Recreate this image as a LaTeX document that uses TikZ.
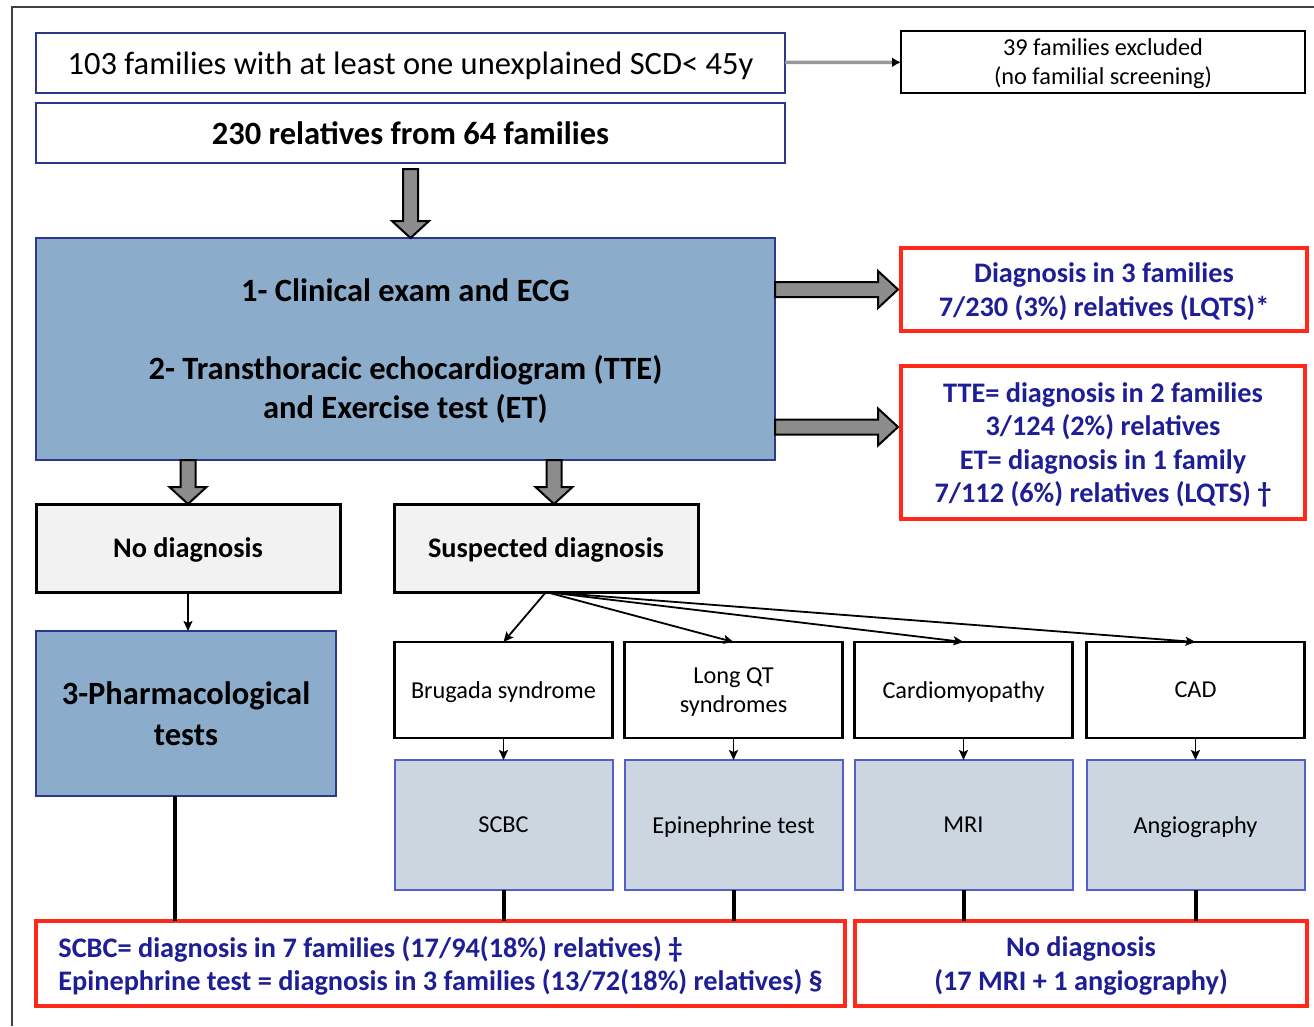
\documentclass[tikz,border=0pt]{standalone}
\usepackage{fontspec}
\setmainfont{Carlito}
\usepackage{xcolor}
\definecolor{colorFrame}{RGB}{45,55,140}
\definecolor{colorStep}{RGB}{139,173,203}
\definecolor{colorTest}{RGB}{203,214,225}
\definecolor{colorTestFrame}{RGB}{85,95,200}
\definecolor{colorResult}{RGB}{255,40,25}
\definecolor{colorText}{RGB}{30,30,150}
\definecolor{colorShade}{RGB}{242,242,242}
\definecolor{colorBlock}{RGB}{140,140,140}
\usepackage{tikz}
\usetikzlibrary{arrows, arrows.meta, positioning, calc}

\newcommand{\sizeBig}{\fontsize{32.5}{39}\selectfont}
\newcommand{\sizeMid}{\fontsize{28.3}{33.5}\selectfont}
\newcommand{\sizeSmall}{\fontsize{24.3}{29}\selectfont}

\tikzset{
  every node/.style={outer sep=0pt, text depth=0pt},
  topbox/.style={draw=colorFrame, fill=white, line width=2.5pt, inner sep=0pt, align=center},
  stepbox/.style={draw=colorFrame, fill=colorStep, line width=2.5pt, inner sep=0pt, align=center, font=\sizeBig\bfseries},
  plainbox/.style={draw=black, fill=white, line width=2.5pt, inner sep=0pt, align=center},
  greybox/.style={draw=black, fill=colorShade, line width=3pt, inner sep=0pt, align=center, font=\sizeMid\bfseries},
  syndrome/.style={plainbox, minimum width=218pt, minimum height=96pt, font=\sizeSmall},
  testbox/.style={draw=colorTestFrame, fill=colorTest, line width=2pt, inner sep=0pt, align=center, minimum width=218pt, minimum height=130pt, font=\sizeSmall},
  resultbox/.style={draw=colorResult, fill=white, line width=3.5pt, inner sep=0pt, text=colorText, font=\sizeMid\bfseries},
  fatarrow/.style={draw=black, fill=colorBlock, line width=2pt, line join=miter},
  thinarrow/.style={->, draw=black, line width=1.8pt},
  thickline/.style={draw=black, line width=4pt},
  greyline/.style={-{Latex[black, length=9pt, width=10pt]}, draw=black!40, line width=3.5pt},
}

% block arrows, drawn between two points
\newcommand{\fatdown}[2]{%
  \path[fatarrow] let \p1=(#1), \p2=(#2) in
    (\x1-7.5pt,\y1) -- (\x1-7.5pt,\y2+17pt) -- (\x1-18.5pt,\y2+17pt) -- (\x1,\y2)
    -- (\x1+18.5pt,\y2+17pt) -- (\x1+7.5pt,\y2+17pt) -- (\x1+7.5pt,\y1) -- cycle;}
\newcommand{\fatright}[2]{%
  \path[fatarrow] let \p1=(#1), \p2=(#2) in
    (\x1,\y1-7.5pt) -- (\x2-20pt,\y1-7.5pt) -- (\x2-20pt,\y1-18.5pt) -- (\x2,\y1)
    -- (\x2-20pt,\y1+18.5pt) -- (\x2-20pt,\y1+7.5pt) -- (\x1,\y1+7.5pt) -- cycle;}

\begin{document}
\begin{tikzpicture}[x=1pt, y=-1pt, >={Stealth[length=10pt, width=9pt, inset=2pt]}, node distance=12pt]
\useasboundingbox (0,0) rectangle (1314,1026);
\draw[black!75, line width=2pt] (12,1026) -- (12,7) -- (1314,7);

% screening
\node[topbox, minimum width=749pt, minimum height=60pt, font=\sizeBig] (cohort) at (410.5,63) {103 families with at least one unexplained SCD< 45y};
\node[topbox, minimum width=749pt, minimum height=60pt, font=\sizeBig\bfseries, below=10pt of cohort] (relatives) {230 relatives from 64 families};
\node[plainbox, minimum width=404pt, minimum height=62pt, font=\sizeSmall] (excluded) at (1103,62) {39 families excluded\\(no familial screening)};
\draw[greyline] (cohort) -- (excluded);

% first line tests
\node[stepbox, minimum width=739pt, minimum height=222pt] (clinical) at (405.5,349) {1- Clinical exam and ECG\\[39pt]2- Transthoracic echocardiogram (TTE)\\and Exercise test (ET)};
\node[resultbox, align=center, minimum width=406pt, minimum height=83pt] (diagA) at (1104,289.5) {Diagnosis in 3 families\\7/230 (3\%) relatives (LQTS)*};
\node[resultbox, align=center, minimum width=404pt, minimum height=153pt] (diagB) at (1103,442.5) {TTE= diagnosis in 2 families\\3/124 (2\%) relatives\\ET= diagnosis in 1 family\\7/112 (6\%) relatives (LQTS) †};
\coordinate (tteArrow) at ([yshift=15.5pt]diagB.west);
\fatdown{[yshift=-6pt]relatives.south}{clinical.north}
\fatright{clinical.east |- diagA.west}{[xshift=-3pt]diagA.west}
\fatright{clinical.east |- tteArrow}{[xshift=-3pt]tteArrow}

% outcome of first line
\node[greybox, minimum width=304pt, minimum height=88pt] (nodiag) at (188,548) {No diagnosis};
\node[greybox, minimum width=304pt, minimum height=88pt, right=54pt of nodiag] (suspected) {Suspected diagnosis};
\coordinate (suspTop) at ([xshift=8pt]suspected.north);
\fatdown{clinical.south -| nodiag.north}{nodiag.north}
\fatdown{clinical.south -| suspTop}{suspTop}

\node[stepbox, minimum width=300pt, minimum height=165pt] (pharm) at (186,713.5) {3-Pharmacological\\[2pt]tests};
\draw[thinarrow] (nodiag.south) -- (nodiag.south |- pharm.north);

% suspected diseases and their tests
\node[syndrome] (brugada) at (503.5,690) {Brugada syndrome};
\node[syndrome, right=12pt of brugada] (longqt) {Long QT\\syndromes};
\node[syndrome, right=12pt of longqt] (cardio) {Cardiomyopathy};
\node[syndrome, right=14pt of cardio] (cad) {CAD};
\foreach \dis in {brugada, longqt, cardio, cad}
  \draw[thinarrow] (suspected.south) -- (\dis.north);

\node[testbox, below=22pt of brugada] (scbc) {SCBC};
\node[testbox, below=22pt of longqt] (epi) {Epinephrine test};
\node[testbox, below=22pt of cardio] (mri) {MRI};
\node[testbox, below=22pt of cad] (angio) {Angiography};
\draw[thinarrow] (brugada) -- (scbc);
\draw[thinarrow] (longqt) -- (epi);
\draw[thinarrow] (cardio) -- (mri);
\draw[thinarrow] (cad) -- (angio);

% results
\node[resultbox, align=left, minimum width=809pt, minimum height=85pt] (found) at (440.5,963.5) {SCBC= diagnosis in 7 families (17/94(18\%) relatives) ‡\\Epinephrine test = diagnosis in 3 families (13/72(18\%) relatives) §};
\node[resultbox, align=center, minimum width=452pt, minimum height=85pt, right=10pt of found] (notfound) {No diagnosis\\(17 MRI + 1 angiography)};

\coordinate (pharmFoot) at ([xshift=-11pt]pharm.south);
\draw[thickline] (pharmFoot) -- (pharmFoot |- found.north);
\foreach \tst in {scbc, epi}
  \draw[thickline] (\tst.south) -- (\tst.south |- found.north);
\foreach \tst in {mri, angio}
  \draw[thickline] (\tst.south) -- (\tst.south |- notfound.north);
\end{tikzpicture}
\end{document}
